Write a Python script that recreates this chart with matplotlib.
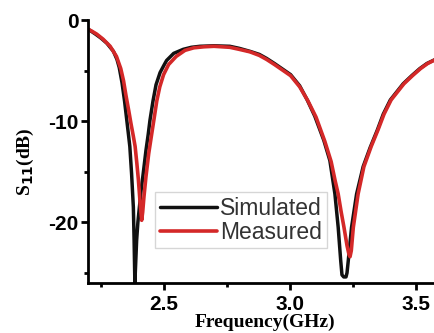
import matplotlib
matplotlib.use("Agg")
import matplotlib.pyplot as plt
from matplotlib.ticker import MultipleLocator

# Simulated S11 (black)
sim_f = [2.200, 2.212, 2.230, 2.252, 2.275, 2.301, 2.315, 2.324, 2.335, 2.345, 2.353,
         2.360, 2.366, 2.373, 2.380, 2.383, 2.386, 2.393, 2.398, 2.404, 2.411, 2.419,
         2.430, 2.439, 2.446, 2.458, 2.470, 2.486, 2.503, 2.512, 2.540, 2.578, 2.610,
         2.644, 2.700, 2.763, 2.800, 2.843, 2.880, 2.909, 2.940, 2.975, 3.004, 3.040,
         3.070, 3.100, 3.136, 3.160, 3.180, 3.193, 3.203, 3.208, 3.215, 3.224, 3.228,
         3.233, 3.246, 3.266, 3.292, 3.320, 3.348, 3.372, 3.400, 3.451, 3.485, 3.517,
         3.545, 3.570, 3.605]
sim_v = [-0.9, -1.1, -1.4, -1.8, -2.3, -3.1, -3.9, -4.7, -6.2, -8.0, -9.7,
         -11.2, -12.5, -15.2, -18.5, -21.8, -26.0, -21.8, -20.0, -18.5, -16.8, -15.2,
         -12.9, -11.3, -9.9, -8.0, -6.4, -5.2, -4.4, -4.0, -3.3, -2.9, -2.7,
         -2.6, -2.55, -2.6, -2.8, -3.1, -3.4, -3.8, -4.3, -4.9, -5.4, -6.5,
         -7.9, -9.5, -11.9, -13.9, -17.2, -20.5, -23.8, -25.2, -25.4, -25.4, -25.0,
         -23.8, -20.5, -17.2, -14.5, -12.6, -10.9, -9.3, -7.9, -6.3, -5.5, -4.8,
         -4.3, -4.0, -3.6]

# Measured S11 (red)
meas_f = [2.200, 2.215, 2.235, 2.260, 2.288, 2.313, 2.330, 2.341, 2.351, 2.362, 2.371,
          2.380, 2.387, 2.394, 2.400, 2.406, 2.410, 2.413, 2.417, 2.422, 2.430, 2.441,
          2.452, 2.462, 2.473, 2.485, 2.500, 2.520, 2.550, 2.585, 2.620, 2.660, 2.700,
          2.763, 2.800, 2.843, 2.880, 2.909, 2.940, 2.975, 3.004, 3.040, 3.073, 3.105,
          3.140, 3.165, 3.181, 3.193, 3.205, 3.216, 3.228, 3.236, 3.240, 3.245, 3.253,
          3.272, 3.295, 3.324, 3.352, 3.375, 3.403, 3.454, 3.488, 3.520, 3.548, 3.572,
          3.605]
meas_v = [-0.9, -1.1, -1.4, -1.9, -2.6, -3.6, -4.8, -6.0, -7.5, -9.0, -10.3,
          -11.5, -12.5, -14.2, -15.8, -17.8, -19.0, -19.8, -19.0, -17.5, -15.5, -13.2,
          -11.4, -9.8, -8.0, -6.6, -5.4, -4.4, -3.6, -3.0, -2.75, -2.65, -2.6,
          -2.7, -2.9, -3.15, -3.5, -3.9, -4.4, -5.0, -5.5, -6.6, -8.0, -9.6,
          -12.0, -14.0, -15.9, -17.2, -19.0, -20.5, -22.3, -23.2, -23.4, -22.8, -20.5,
          -17.2, -14.5, -12.5, -10.8, -9.3, -7.9, -6.3, -5.5, -4.8, -4.3, -4.0,
          -3.6]

x_ticks = [2.5, 3.0, 3.5]
x_ticklabels = ["2.5", "3.0", "3.5"]
y_ticks = [0, -10, -20]
y_ticklabels = ["0", "-10", "-20"]

W, H = 434, 333
fig = plt.figure(figsize=(W / 100, H / 100), dpi=100)
ax_left, ax_right = 88, 442
ax_top, ax_bottom = 20, 283
ax = fig.add_axes([ax_left / W, 1 - ax_bottom / H,
                   (ax_right - ax_left) / W, (ax_bottom - ax_top) / H])

ax.plot(sim_f, sim_v, color="#111111", lw=2.5, label="Simulated",
        solid_joinstyle="round", solid_capstyle="round")
ax.plot(meas_f, meas_v, color="#d42828", lw=2.6, label="Measured",
        solid_joinstyle="round", solid_capstyle="round")

ax.set_xlim(2.2, 3.605)
ax.set_ylim(-26.0, 0.0)

for s in ["top", "right"]:
    ax.spines[s].set_visible(False)
for s in ["left", "bottom"]:
    ax.spines[s].set_linewidth(2.0)

ax.set_xticks(x_ticks)
ax.set_xticklabels(x_ticklabels)
ax.set_yticks(y_ticks)
ax.set_yticklabels(y_ticklabels)
ax.xaxis.set_minor_locator(MultipleLocator(0.25))
ax.yaxis.set_minor_locator(MultipleLocator(5))
ax.tick_params(which="major", direction="out", length=5, width=2, pad=2)
ax.tick_params(axis="x", which="major", pad=4)
ax.tick_params(which="minor", direction="out", length=3, width=2)
for lbl in ax.get_xticklabels() + ax.get_yticklabels():
    lbl.set_fontfamily("Liberation Sans")
    lbl.set_fontweight("bold")
    lbl.set_fontsize(15)

fig.text((ax_left + ax_right) / 2 / W, 1 - 322 / H, "Frequency(GHz)",
         family="Liberation Serif", weight="bold", fontsize=14,
         ha="center", va="center")
fig.text(25 / W, 1 - 162 / H, r"S$_{\mathbf{11}}$(dB)",
         family="Liberation Serif", weight="bold", fontsize=14,
         rotation=90, ha="center", va="center")

leg = ax.legend(loc="upper left", bbox_to_anchor=(155 / W, 1 - 192 / H),
                bbox_transform=fig.transFigure,
                prop={"family": "Liberation Sans", "size": 16.5},
                frameon=True, fancybox=False, edgecolor="#cccccc",
                handlelength=2.5, handletextpad=0.15, borderpad=0.2,
                labelspacing=0.05, borderaxespad=0)
for t in leg.get_texts():
    t.set_color("#333333")
leg.get_frame().set_linewidth(1.0)

fig.savefig("out.png", dpi=100)
